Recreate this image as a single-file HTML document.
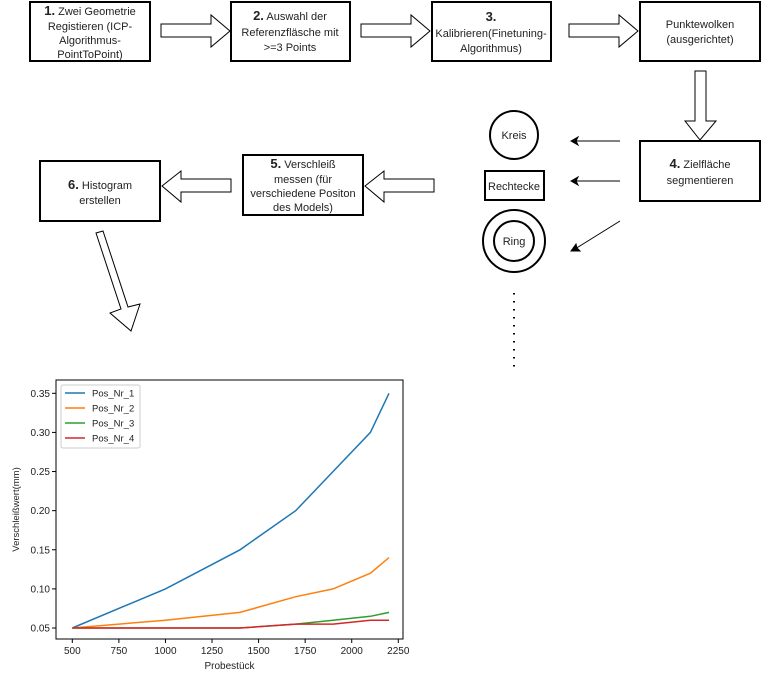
<!DOCTYPE html>
<html><head><meta charset="utf-8"><style>
body{margin:0;background:#fff;width:762px;height:678px;overflow:hidden}
svg{display:block}
text{font-family:"Liberation Sans",sans-serif;fill:#222}
.bx{fill:#fff;stroke:#000;stroke-width:2}
.ar{fill:#fff;stroke:#000;stroke-width:1}
</style></head><body>
<svg width="762" height="678" viewBox="0 0 762 678" xmlns="http://www.w3.org/2000/svg">
<g>
 <g>
  <rect class="bx" x="30" y="2" width="120" height="59"/>
  <text x="90" y="15" font-size="11" text-anchor="middle"><tspan font-weight="bold" font-size="13">1.</tspan> Zwei Geometrie</text>
  <text x="90" y="30" font-size="11" text-anchor="middle">Registieren (ICP-</text>
  <text x="90" y="44" font-size="11" text-anchor="middle">Algorithmus-</text>
  <text x="90" y="58" font-size="11" text-anchor="middle">PointToPoint)</text>
 </g>
 <g>
  <rect class="bx" x="231" y="2" width="119" height="59"/>
  <text x="290" y="20" font-size="11" text-anchor="middle"><tspan font-weight="bold" font-size="13">2.</tspan> Auswahl der</text>
  <text x="290" y="36" font-size="11" text-anchor="middle">Referenzfläsche mit</text>
  <text x="290" y="51" font-size="11" text-anchor="middle">&gt;=3 Points</text>
 </g>
 <g>
  <rect class="bx" x="432" y="2" width="119" height="59"/>
  <text x="491" y="21" font-size="13" font-weight="bold" text-anchor="middle">3.</text>
  <text x="491" y="37" font-size="11" text-anchor="middle">Kalibrieren(Finetuning-</text>
  <text x="491" y="52" font-size="11" text-anchor="middle">Algorithmus)</text>
 </g>
 <g>
  <rect class="bx" x="640" y="2" width="120" height="59"/>
  <text x="700" y="28" font-size="11" text-anchor="middle">Punktewolken</text>
  <text x="700" y="43" font-size="11" text-anchor="middle">(ausgerichtet)</text>
 </g>
 <polygon class="ar" points="161,24 211,24 211,15 230,31 211,47 211,37 161,37"/>
 <polygon class="ar" points="361,24 411,24 411,15 430,31 411,47 411,37 361,37"/>
 <polygon class="ar" points="569,24 619,24 619,15 638,31 619,47 619,37 569,37"/>
 <polygon class="ar" points="695,71 706,71 706,121 716,121 700,140 685,121 695,121"/>
 <g>
  <rect class="bx" x="640" y="141" width="120" height="60"/>
  <text x="700" y="168" font-size="11" text-anchor="middle"><tspan font-weight="bold" font-size="13">4.</tspan> Zielfläche</text>
  <text x="700" y="184" font-size="11" text-anchor="middle">segmentieren</text>
 </g>
 <g>
  <circle cx="514" cy="135" r="24" fill="#fff" stroke="#000" stroke-width="2"/>
  <text x="514" y="139" font-size="11" text-anchor="middle">Kreis</text>
 </g>
 <g>
  <rect x="485" y="171" width="59" height="29" fill="#fff" stroke="#000" stroke-width="2"/>
  <text x="514" y="190" font-size="11" text-anchor="middle">Rechtecke</text>
 </g>
 <g>
  <circle cx="514" cy="241" r="31" fill="#fff" stroke="#000" stroke-width="2"/>
  <circle cx="514" cy="241" r="20" fill="#fff" stroke="#000" stroke-width="2"/>
  <text x="514" y="245" font-size="11" text-anchor="middle">Ring</text>
 </g>
 <g stroke="#000" fill="#000">
  <line x1="620" y1="141" x2="574" y2="141"/><polygon points="571,141 578,137 576,141 578,145"/>
  <line x1="620" y1="181" x2="574" y2="181"/><polygon points="571,181 578,177 576,181 578,185"/>
  <line x1="620" y1="221" x2="575" y2="249"/><polygon points="571,251 576,244 577,248 580,251"/>
 </g>
 <line x1="514" y1="293" x2="514" y2="368" stroke="#000" stroke-width="2" stroke-dasharray="1.5,6.5"/>
 <g>
  <rect class="bx" x="243" y="155" width="120" height="60"/>
  <text x="303" y="168" font-size="11" text-anchor="middle"><tspan font-weight="bold" font-size="13">5.</tspan> Verschleiß</text>
  <text x="303" y="183" font-size="11" text-anchor="middle">messen (für</text>
  <text x="303" y="197" font-size="11" text-anchor="middle">verschiedene Positon</text>
  <text x="303" y="211" font-size="11" text-anchor="middle">des Models)</text>
 </g>
 <g>
  <rect class="bx" x="40" y="161" width="120" height="60"/>
  <text x="100" y="189" font-size="11" text-anchor="middle"><tspan font-weight="bold" font-size="13">6.</tspan> Histogram</text>
  <text x="100" y="204" font-size="11" text-anchor="middle">erstellen</text>
 </g>
 <polygon class="ar" points="434,179 384,179 384,171 365,186 384,202 384,192 434,192"/>
 <polygon class="ar" points="231,179 181,179 181,171 162,186 181,202 181,192 231,192"/>
 <polygon class="ar" points="96,233 103,231 128,307 140,304 131,331 110,313 121,309"/>
</g>

<g id="chart"></g>
</svg>
<script>
const xValues=[500,1000,1400,1700,1900,2100,2200];
const pos1=[0.05,0.10,0.15,0.20,0.25,0.30,0.35];
const pos2=[0.05,0.06,0.07,0.09,0.10,0.12,0.14];
const pos3=[0.05,0.05,0.05,0.055,0.06,0.065,0.07];
const pos4=[0.05,0.05,0.05,0.055,0.055,0.06,0.06];
const seriesNames=["Pos_Nr_1","Pos_Nr_2","Pos_Nr_3","Pos_Nr_4"];
const xTicks=[500,750,1000,1250,1500,1750,2000,2250];
const yTicks=[0.05,0.10,0.15,0.20,0.25,0.30,0.35];

const NS="http://www.w3.org/2000/svg";
const g=document.getElementById('chart');
const L=56,R=403,T=380,B=639;
const xs=v=>72.3+(v-500)*(326/1750);
const ys=v=>628-(v-0.05)*(234.7/0.30);
function mk(tag,a,parent){const e=document.createElementNS(NS,tag);for(const k in a)e.setAttribute(k,a[k]);(parent||g).appendChild(e);return e;}
const frame=mk('rect',{x:L,y:T,width:R-L,height:B-T,fill:'none',stroke:'#000','stroke-width':1});


xTicks.forEach(t=>{
  const x=xs(t);
  const tk=mk('line',{x1:x,y1:B,x2:x,y2:B+4,stroke:'#000'});
  
  
  const tx=mk('text',{x:x,y:B+15,'font-size':10,'text-anchor':'middle'});tx.textContent=t;
  
  
});
yTicks.forEach(t=>{
  const y=ys(t);
  const tk=mk('line',{x1:L-4,y1:y,x2:L,y2:y,stroke:'#000'});
  
  
  const tx=mk('text',{x:L-6,y:y+3.5,'font-size':10,'text-anchor':'end'});tx.textContent=t.toFixed(2);
  
  
});
const xt=mk('text',{x:(L+R)/2,y:669,'font-size':10,'text-anchor':'middle'});xt.textContent='Probestück';


const yt=mk('text',{x:0,y:0,'font-size':9.5,'text-anchor':'middle',transform:`translate(19,${(T+B)/2}) rotate(-90)`});yt.textContent='Verschleißwert(mm)';


const colors=['#1f77b4','#ff7f0e','#2ca02c','#d62728'];
[pos1,pos2,pos3,pos4].forEach((s,i)=>{
  const pts=s.map((v,j)=>xs(xValues[j]).toFixed(1)+','+ys(v).toFixed(1)).join(' ');
  const pl=mk('polyline',{points:pts,fill:'none',stroke:colors[i],'stroke-width':1.5});
  
  
});
const lg=mk('g',{});


mk('rect',{x:61,y:385,width:79,height:63,fill:'#fff',stroke:'#ccc',rx:2},lg);
seriesNames.forEach((n,i)=>{
  const y=393+i*15;
  const ln=mk('line',{x1:65,y1:y,x2:85,y2:y,stroke:colors[i],'stroke-width':1.5},lg);
  
  
  const tx=mk('text',{x:92,y:y+3.5,'font-size':9.5},lg);tx.textContent=n;
  
  
});
</script>
</body></html>
